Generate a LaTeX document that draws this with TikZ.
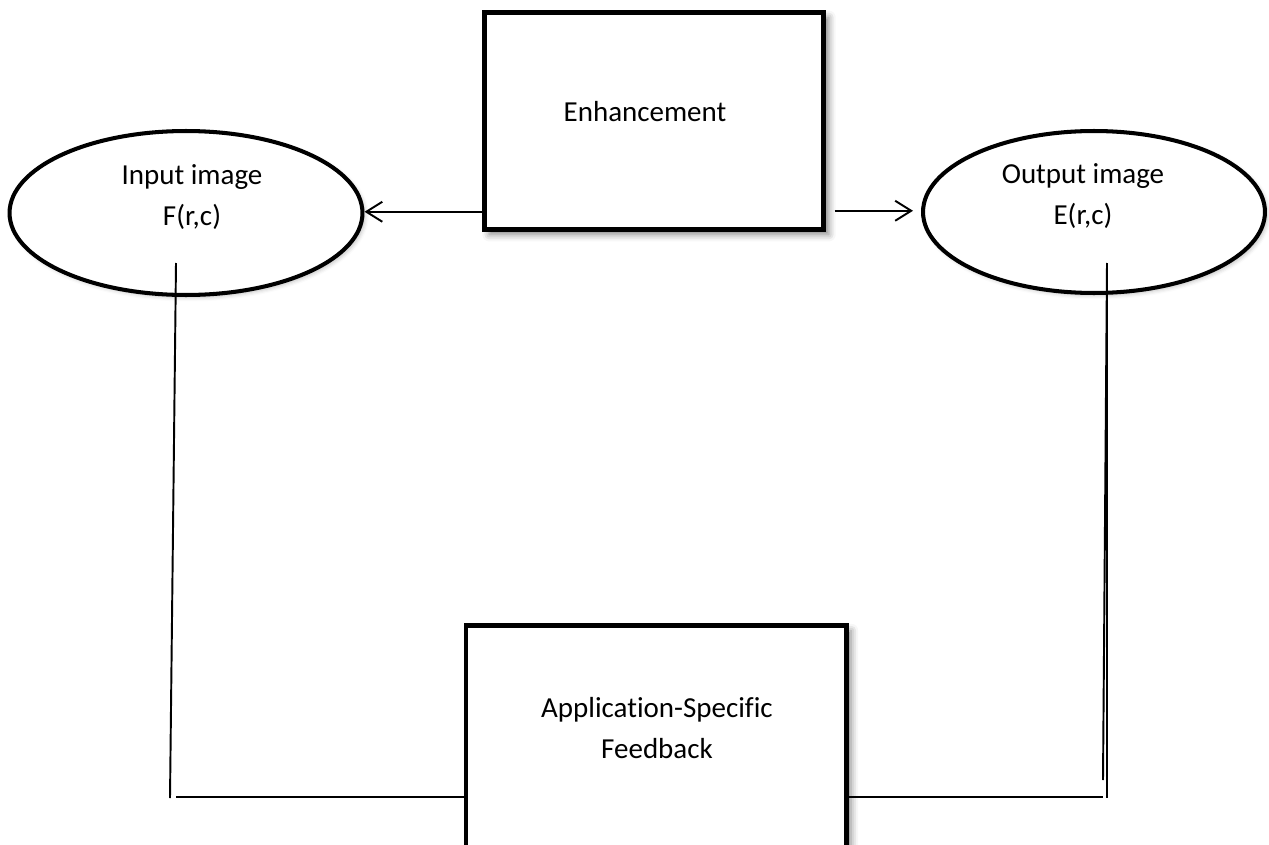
\documentclass[tikz,border=0pt]{standalone}
\usepackage{fontspec}
\setmainfont[Ligatures=NoCommon]{Carlito}
\usetikzlibrary{arrows.meta,shapes.geometric,shadows.blur}

\begin{document}
\begin{tikzpicture}[
  x=0.02cm, y=-0.02cm,
  img/.style={draw, ellipse, fill=white, line width=2.3pt, inner sep=0pt,
              blur shadow={shadow xshift=0.05cm, shadow yshift=-0.05cm,
                           shadow opacity=25, shadow blur radius=0.08cm}},
  blk/.style={draw, fill=white, line width=2.6pt, inner sep=0pt,
              blur shadow={shadow xshift=0.1cm, shadow yshift=-0.1cm,
                           shadow opacity=50, shadow blur radius=0.14cm}},
  txt/.style={font=\fontsize{16.5}{23.5}\selectfont, align=center},
  >={Straight Barb[length=0.32cm,width=0.4cm]}, line width=1.1pt
]
  \useasboundingbox (0,0) rectangle (1269,845);
  \clip (0,0) rectangle (1269,845);

  % the two images
  \node[img, minimum width=7.06cm, minimum height=3.28cm] (inp) at (186,213) {};
  \node[txt] (inptxt) at (192,197) {Input image\\F(r,c)};
  \node[img, minimum width=6.84cm, minimum height=3.24cm] (out) at (1094,212) {};
  \node[txt] (outtxt) at (1083,196) {Output image\\E(r,c)};

  % blocks
  \node[blk, minimum width=6.79cm, minimum height=4.34cm] (enh) at (654,121) {};
  \node[txt] (enhtxt) at (645,112) {Enhancement};
  \node[blk, minimum width=7.61cm, minimum height=5.09cm] (fb) at (656,753) {};
  \node[txt] (fbtxt) at (657,728) {Application-Specific\\Feedback};

  % arrows out of the enhancement block
  \coordinate (la) at ([yshift=0.4cm]enh.south west);
  \coordinate (ra) at ([xshift=0.17cm,yshift=0.42cm]enh.south east);
  \draw[->] (la) -- (la -| inp.east);
  \draw[->, shorten >=0.16cm] (ra) -- (ra -| out.west);

  % feedback loop
  \coordinate (ltop) at (176,263);
  \coordinate (lbot) at (170,798);
  \coordinate (rtop) at (1107,263);
  \coordinate (rbot) at (1103,780);
  \coordinate (rbot2) at (1107,798);
  \coordinate (fl) at ([yshift=-0.885cm]fb.west);
  \coordinate (fr) at ([yshift=-0.885cm]fb.east);
  \draw (ltop) -- (lbot);
  \draw (fl) -- (fl -| ltop);
  \draw (rtop) -- (rbot);
  \draw (rtop) -- (rbot2);
  \draw (fr) -- (fr -| rbot);
\end{tikzpicture}
\end{document}
